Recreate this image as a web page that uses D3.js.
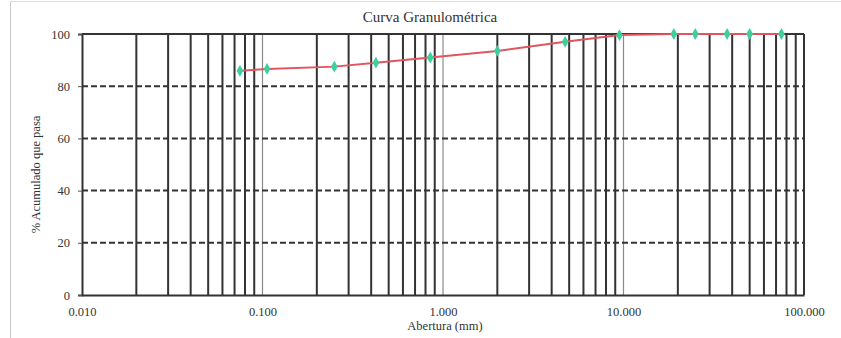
<!DOCTYPE html>
<html><head><meta charset="utf-8">
<script src="https://cdn.jsdelivr.net/npm/d3@7"></script>
<style>body{margin:0;background:#fff}svg{display:block}svg text{font-family:'Liberation Serif','DejaVu Serif','Times New Roman',serif !important;fill:#333}</style>
</head><body><svg id="c" width="841" height="338"></svg>
<script>
const sizes = [0.075, 0.106, 0.25, 0.425, 0.85, 2.0, 4.75, 9.5, 19, 25, 37.5, 50, 75];
const passing = [85.9, 86.6, 87.5, 89.0, 91.0, 93.5, 97.0, 99.6, 100, 100, 100, 100, 100];
const xTicks = [0.01, 0.1, 1, 10, 100];
const xTickLabels = ["0.010", "0.100", "1.000", "10.000", "100.000"];
const yTicks = [0, 20, 40, 60, 80, 100];
const title = "Curva Granulométrica";
const xTitle = "Abertura (mm)";
const yTitle = "% Acumulado que pasa";

const svg = d3.select("#c");
const L = 82, R = 804, T = 34, B = 295;
const x = d3.scaleLog().domain([0.01, 100]).range([L, R]);
const y = d3.scaleLinear().domain([0, 100]).range([B, T]);

svg.append("line").attr("x1", 10.5).attr("x2", 10.5).attr("y1", 2).attr("y2", 338).attr("stroke", "#ccc").attr("stroke-width", 1);
svg.append("line").attr("x1", 10).attr("x2", 841).attr("y1", 1.5).attr("y2", 1.5).attr("stroke", "#ddd").attr("stroke-width", 1);

const minors = [];
for (let e = -2; e < 2; e++) for (let m = 2; m <= 9; m++) minors.push(m * Math.pow(10, e));
svg.append("g").selectAll("line").data(minors).join("line")
  .attr("x1", d => x(d)).attr("x2", d => x(d)).attr("y1", T).attr("y2", B)
  .attr("stroke", "#333").attr("stroke-width", 2);
svg.append("g").selectAll("line").data([0.1, 1, 10]).join("line")
  .attr("x1", d => x(d)).attr("x2", d => x(d)).attr("y1", T).attr("y2", B)
  .attr("stroke", "#8a8a8a").attr("stroke-width", 1.2);
svg.append("g").selectAll("line").data([20, 40, 60, 80]).join("line")
  .attr("x1", L).attr("x2", R).attr("y1", d => y(d)).attr("y2", d => y(d))
  .attr("stroke", "#333").attr("stroke-width", 2).attr("stroke-dasharray", "6,3");
svg.append("line").attr("x1", L).attr("x2", R).attr("y1", T).attr("y2", T).attr("stroke", "#333").attr("stroke-width", 2);
svg.append("line").attr("x1", R).attr("x2", R).attr("y1", T).attr("y2", B).attr("stroke", "#333").attr("stroke-width", 2);

const yAxis = svg.append("g").attr("transform", `translate(${L},0)`)
  .call(d3.axisLeft(y).tickValues(yTicks).tickSize(4).tickPadding(8));
yAxis.attr("font-family", null).attr("font-size", null);
yAxis.select(".domain").attr("stroke", "#333").attr("stroke-width", 2);
yAxis.selectAll(".tick line").attr("stroke", "#555");
yAxis.selectAll("text").style("font-size", "12.5px").attr("fill", "#333");

const xAxis = svg.append("g").attr("transform", `translate(0,${B})`)
  .call(d3.axisBottom(x).tickValues(xTicks).tickFormat((d, i) => xTickLabels[i]).tickSize(0).tickPadding(12));
xAxis.attr("font-family", null).attr("font-size", null);
xAxis.select(".domain").attr("stroke", "#333").attr("stroke-width", 2);
xAxis.selectAll("text").style("font-size", "12.5px").attr("fill", "#333");

svg.append("text").attr("x", 430).attr("y", 22).attr("text-anchor", "middle").style("font-size", "15px").text(title);
svg.append("text").attr("x", 445).attr("y", 330).attr("text-anchor", "middle").style("font-size", "12.5px").text(xTitle);
svg.append("text").attr("transform", `translate(40,${(T + B) / 2 + 10}) rotate(-90)`).attr("text-anchor", "middle").style("font-size", "12.5px").text(yTitle);

const pts = sizes.map((s, i) => [s, passing[i]]);
svg.append("path").datum(pts)
  .attr("d", d3.line().x(d => x(d[0])).y(d => y(d[1])))
  .attr("fill", "none").attr("stroke", "#e0555e").attr("stroke-width", 2);
svg.append("g").selectAll("path").data(pts).join("path")
  .attr("transform", d => `translate(${x(d[0])},${y(d[1])})`)
  .attr("d", d3.symbol(d3.symbolDiamond, 40)())
  .attr("fill", "#3fcf9f");
</script></body></html>
